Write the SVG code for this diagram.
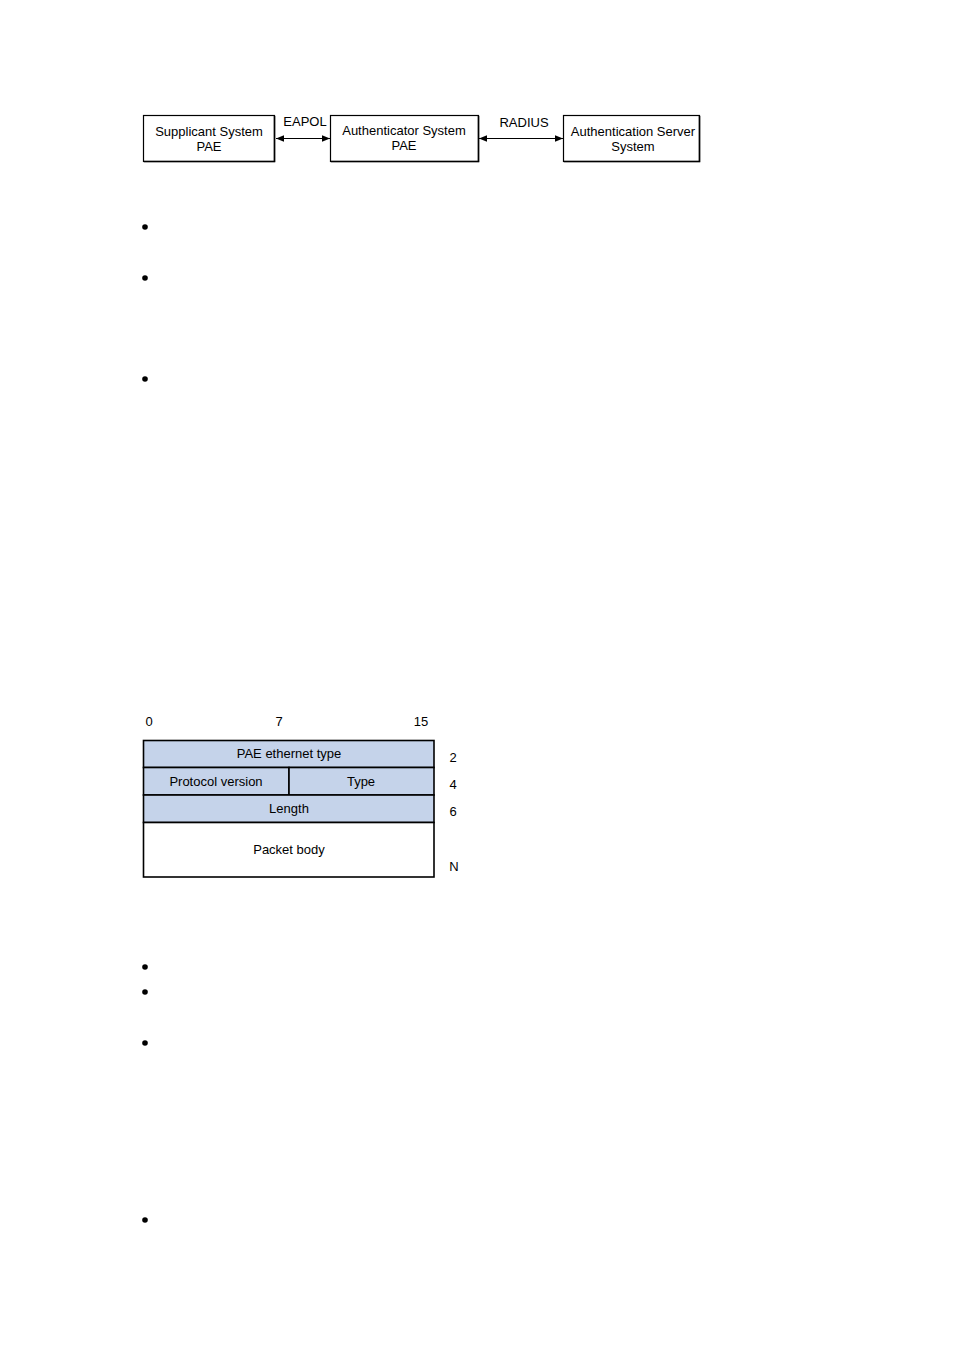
<svg xmlns="http://www.w3.org/2000/svg" width="954" height="1350" viewBox="0 0 954 1350">
<defs>
<style>
text{font-family:"Liberation Sans",Arial,sans-serif;font-size:13px;fill:#000}
.sm{font-size:13px}
.box{fill:#fff;stroke:#000;stroke-width:1.2}
.cell{fill:#c5d3ea;stroke:#000;stroke-width:1.6}
.wcell{fill:#fff;stroke:#000;stroke-width:1.6}
.conn{stroke:#000;stroke-width:1;fill:none}
</style>
<marker id="ah" viewBox="0 0 10 10" refX="10" refY="5" markerWidth="8" markerHeight="8" orient="auto-start-reverse" markerUnits="userSpaceOnUse">
<path d="M0,1 L10,5 L0,9 z" fill="#000"/>
</marker>
</defs>
<rect width="954" height="1350" fill="#fff"/>
<g id="supplicant">
<rect class="box" x="143.5" y="115.5" width="131" height="46"/>
<path d="M274.5,116 V161.5 H144" stroke="#000" stroke-width="1.6" fill="none"/>
<text x="209" y="136" text-anchor="middle">Supplicant System</text>
<text x="209" y="151" text-anchor="middle">PAE</text>
</g>
<g id="authenticator">
<rect class="box" x="330.5" y="115.5" width="148" height="46"/>
<path d="M478.5,116 V161.5 H331" stroke="#000" stroke-width="1.6" fill="none"/>
<text x="404" y="135" text-anchor="middle">Authenticator System</text>
<text x="404" y="150" text-anchor="middle">PAE</text>
</g>
<g id="server">
<rect class="box" x="563.5" y="115.5" width="136" height="46"/>
<path d="M699.5,116 V161.5 H564" stroke="#000" stroke-width="1.6" fill="none"/>
<text x="633" y="136" text-anchor="middle">Authentication Server</text>
<text x="633" y="151" text-anchor="middle">System</text>
</g>
<g id="connectors">
<line class="conn" x1="276" y1="138.5" x2="330" y2="138.5" marker-start="url(#ah)" marker-end="url(#ah)"/>
<line class="conn" x1="479" y1="138.5" x2="563" y2="138.5" marker-start="url(#ah)" marker-end="url(#ah)"/>
<text x="305" y="126" text-anchor="middle">EAPOL</text>
<text x="524" y="127" text-anchor="middle">RADIUS</text>
</g>
<g id="bullets" fill="#000">
<circle cx="145" cy="227" r="2.8"/>
<circle cx="145" cy="278" r="2.8"/>
<circle cx="145" cy="379" r="2.8"/>
<circle cx="145" cy="967" r="2.8"/>
<circle cx="145" cy="992" r="2.8"/>
<circle cx="145" cy="1043" r="2.8"/>
<circle cx="145" cy="1220" r="2.8"/>
</g>
<g id="eapol-frame">
<text x="149" y="726" text-anchor="middle">0</text>
<text x="279" y="726" text-anchor="middle">7</text>
<text x="421" y="726" text-anchor="middle">15</text>
<g id="pae-type">
<rect class="cell" x="143.5" y="740.5" width="290.5" height="27"/>
<text class="sm" x="289" y="758" text-anchor="middle">PAE ethernet type</text>
</g>
<g id="protocol-version">
<rect class="cell" x="143.5" y="767.5" width="145.5" height="27.5"/>
<text class="sm" x="216" y="786" text-anchor="middle">Protocol version</text>
</g>
<g id="type">
<rect class="cell" x="289" y="767.5" width="145" height="27.5"/>
<text class="sm" x="361" y="786" text-anchor="middle">Type</text>
</g>
<g id="length">
<rect class="cell" x="143.5" y="795" width="290.5" height="27.5"/>
<text class="sm" x="289" y="813" text-anchor="middle">Length</text>
</g>
<g id="packet-body">
<rect class="wcell" x="143.5" y="822.5" width="290.5" height="54.5"/>
<text class="sm" x="289" y="854" text-anchor="middle">Packet body</text>
</g>
<text x="453" y="762" text-anchor="middle">2</text>
<text x="453" y="789" text-anchor="middle">4</text>
<text x="453" y="816" text-anchor="middle">6</text>
<text x="454" y="871" text-anchor="middle">N</text>
</g>
</svg>
